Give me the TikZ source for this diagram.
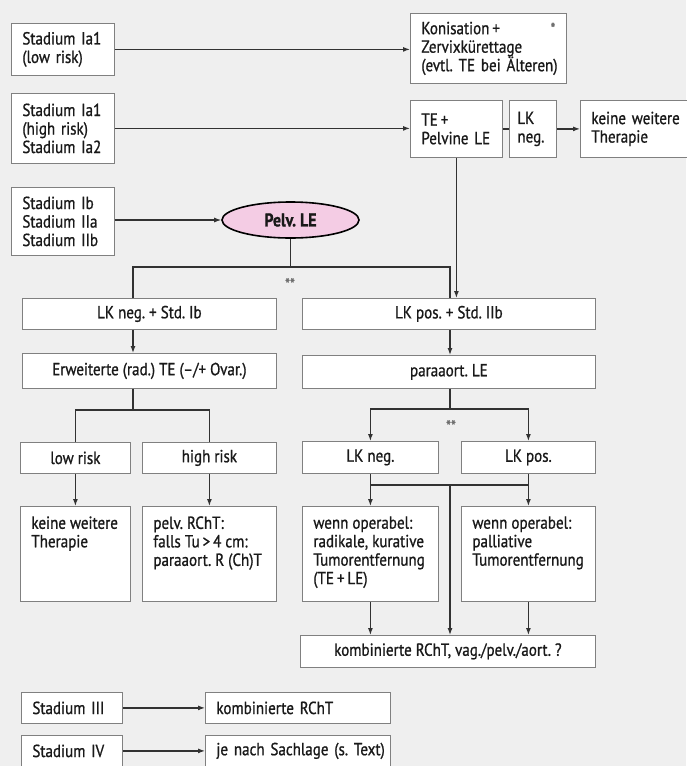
\documentclass[tikz,border=0pt]{standalone}
\usepackage{fontspec}
\setmainfont{PT Sans}[FakeBold=0.9, FakeStretch=0.86]
\usepackage{xcolor}
\usepackage{tikz}
\usetikzlibrary{arrows.meta,positioning,shapes.geometric,calc}
\definecolor{hintergrund}{RGB}{239,239,239}
\definecolor{rahmen}{RGB}{128,128,128}
\definecolor{strich}{RGB}{50,50,50}
\definecolor{schrift}{RGB}{25,25,25}
\definecolor{rosa}{RGB}{244,204,228}
\frenchspacing
\hyphenpenalty=10000
\exhyphenpenalty=10000
\tikzset{
    kasten/.style={
        rectangle,
        draw=rahmen,
        fill=white,
        line width=0.8pt,
        inner xsep=11pt,
        inner ysep=0pt,
        anchor=north west
    },
    groesse/.style 2 args={minimum width=#1pt, minimum height=#2pt},
    links/.style={kasten, align=left},
    mitte/.style={kasten, align=center},
    oben/.style={kasten, inner ysep=10pt},
    oval/.style={
        ellipse,
        draw=black,
        line width=1.6pt,
        inner sep=0pt,
        fill=rosa,
        font=\fontsize{18.5}{19}\selectfont\bfseries
    },
    linie/.style={draw=strich, line width=1.2pt},
    pfeil/.style={linie, -{Latex[length=7pt,width=5pt]}},
    stern/.style={font=\fontsize{16}{16}\selectfont, text=strich!70, inner sep=0pt}
}

\begin{document}
\begin{tikzpicture}[x=1pt, y=-1pt, font=\fontsize{17.5}{18.5}\selectfont, text=schrift]
    \fill[hintergrund] (0,0) rectangle (686,766);
    \useasboundingbox (0,0) rectangle (686,766);
    % Stadium Ia1 / Ia2
    \node[links, groesse={103}{52}, text width=81pt] (s1) at (11,23)
        {Stadium~Ia1\\(low~risk)};
    \node[links, groesse={156}{70}, text width=134pt] (kon) at (410,13)
        {Konisation\,+\hskip 0pt plus 1fill{\fontsize{16}{12}\selectfont\color{strich!70}*}\\Zervixkürettage\\(evtl.~TE~bei~Älteren)};
    \node[links, groesse={103}{70}, text width=81pt] (s2) at (11,93)
        {Stadium~Ia1\\(high~risk)\\Stadium~Ia2};
    \node[links, groesse={92}{57}, text width=70pt] (te) at (410,100)
        {TE\,+\\Pelvine~LE};
    \node[links, groesse={47}{57}, inner xsep=8pt, text width=31pt] (lkn1) at (509,100)
        {LK\\neg.};
    \node[links, groesse={108}{57}, text width=86pt] (kw1) at (580,100)
        {keine~weitere\\Therapie};
    % Stadium Ib - IIb
    \node[links, groesse={103}{68}, text width=81pt] (s3) at (11,187)
        {Stadium~Ib\\Stadium~IIa\\Stadium~IIb};
    \node[oval, minimum width=137pt, minimum height=36pt] (pelvle) at (290.5,220)
        {Pelv. LE};
    \node[mitte, groesse={254}{31}] (lknegib) at (22,298) {LK neg. + Std. Ib};
    \node[mitte, groesse={293}{31}] (lkposiib) at (302,298) {LK pos. + Std. IIb};
    \node[mitte, groesse={254}{35}] (erw) at (22,353) {Erweiterte (rad.) TE (--/+ Ovar.)};
    \node[mitte, groesse={293}{33}] (para) at (302,355) {paraaort. LE};
    \node[mitte, groesse={110}{31}] (low) at (20,442) {low risk};
    \node[mitte, groesse={134}{31}] (high) at (142,442) {high risk};
    \node[oben, groesse={110}{95}] (kw2) at (20,506)
        {\parbox[c][75pt][t]{88pt}{\raggedright keine~weitere\\Therapie}};
    \node[oben, groesse={134}{95}] (pelv) at (142,506)
        {\parbox[c][75pt][t]{112pt}{\raggedright pelv.~RChT:\\falls~Tu\,>\,4~cm:\\paraaort.~R~(Ch)T}};
    \node[mitte, groesse={136}{32}] (lkn2) at (302,441) {LK neg.};
    \node[mitte, groesse={134}{32}] (lkp2) at (461,441) {LK pos.};
    \node[oben, groesse={136}{95}] (wo1) at (302,506)
        {\parbox[c][75pt][t]{114pt}{\raggedright wenn~operabel:\\radikale,~kurative\\Tumorentfernung\\(TE\,+\,LE)}};
    \node[oben, groesse={134}{95}] (wo2) at (461,506)
        {\parbox[c][75pt][t]{112pt}{\raggedright wenn~operabel:\\palliative\\Tumorentfernung}};
    \node[mitte, groesse={295}{32}] (kombi) at (300,635) {kombinierte RChT, vag./pelv./aort. ?};
    % Stadium III / IV
    \node[links, groesse={101}{31}, text width=79pt] (s4) at (21,692) {Stadium~III};
    \node[links, groesse={185}{31}, text width=163pt] (kr) at (205,692) {kombinierte~RChT};
    \node[links, groesse={101}{31}, text width=79pt] (s5) at (21,735) {Stadium~IV};
    \node[links, groesse={185}{31}, text width=163pt] (jn) at (205,735) {je~nach~Sachlage~(s.~Text)};
    \node[stern] (stern1) at (290,284) {**};
    \node[stern] (stern2) at (451,426) {**};
    % Verzweigungen
    \coordinate (ga) at (133,267);
    \coordinate (gb) at (450,267);
    \coordinate (gc) at (133,410);
    \coordinate (gd) at (450,409);
    \coordinate (ge) at (450,485);
    % Verbindungen
    \draw[pfeil] (s1.east) -- (s1.east -| kon.west);
    \draw[pfeil] (s2.east) -- (s2.east -| te.west);
    \draw[linie] (te.east) -- (lkn1.west);
    \draw[pfeil] (lkn1) -- (kw1);
    \draw[pfeil] (te.south) -- (te.south |- lkposiib.north);
    \draw[pfeil] (s3.east |- pelvle.west) -- (pelvle.west);
    \draw[linie] (pelvle.south) -- (pelvle.south |- ga);
    \draw[linie] (lknegib.north -| ga) -- (ga) -- (gb) -- (lkposiib.north -| gb);
    \draw[pfeil] (lknegib.south -| ga) -- (erw.north -| ga);
    \draw[pfeil] (lkposiib.south -| gb) -- (para.north -| gb);
    \draw[linie] (erw.south -| gc) -- (gc);
    \draw[linie] (low.north) -- (low.north |- gc) -- (high.north |- gc) -- (high.north);
    \draw[pfeil] (low) -- (kw2);
    \draw[pfeil] (high) -- (pelv);
    \draw[linie] (para.south -| gd) -- (gd);
    \draw[pfeil] (gd) -| (lkn2.north);
    \draw[pfeil] (gd) -| (lkp2.north);
    \draw[linie] (lkn2.south) |- (ge);
    \draw[linie] (lkp2.south) |- (ge);
    \draw[pfeil] (lkn2.south |- ge) -- (wo1.north);
    \draw[pfeil] (lkp2.south |- ge) -- (wo2.north);
    \draw[pfeil] (ge) -- (ge |- kombi.north);
    \draw[pfeil] (wo1.south) -- (wo1.south |- kombi.north);
    \draw[pfeil] (wo2.south) -- (wo2.south |- kombi.north);
    \draw[pfeil] (s4) -- (kr);
    \draw[pfeil] (s5) -- (jn);
\end{tikzpicture}
\end{document}
